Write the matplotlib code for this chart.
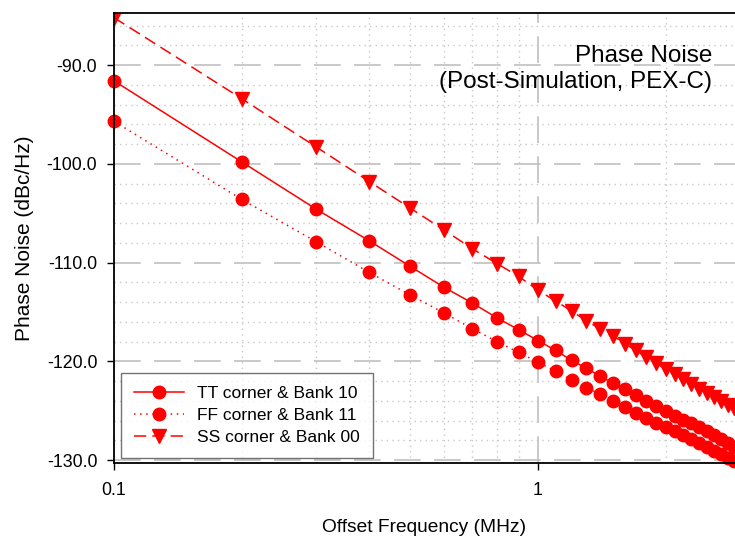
import matplotlib
matplotlib.use("Agg")
import matplotlib.pyplot as plt
from matplotlib.ticker import FixedLocator, NullFormatter, MultipleLocator, FormatStrFormatter

plt.rcParams['font.family'] = ['Liberation Sans', 'DejaVu Sans']

freq = [0.1, 0.2, 0.3, 0.4, 0.5, 0.6, 0.7, 0.8, 0.9, 1.0,
        1.1, 1.2, 1.3, 1.4, 1.5, 1.6, 1.7, 1.8, 1.9, 2.0,
        2.1, 2.2, 2.3, 2.4, 2.5, 2.6, 2.7, 2.8, 2.9]

tt_bank10 = [-91.6, -99.8, -104.6, -107.8, -110.4, -112.5, -114.1, -115.6, -116.8, -117.9,
             -118.9, -119.9, -120.7, -121.5, -122.2, -122.8, -123.4, -124.0, -124.5, -125.0,
             -125.5, -125.9, -126.3, -126.7, -127.1, -127.5, -127.9, -128.3, -128.7]

ff_bank11 = [-95.7, -103.6, -107.9, -111.0, -113.3, -115.1, -116.7, -118.0, -119.1, -120.1,
             -121.0, -121.9, -122.7, -123.3, -124.0, -124.6, -125.2, -125.7, -126.2, -126.7,
             -127.1, -127.5, -127.9, -128.3, -128.7, -129.1, -129.4, -129.8, -130.1]

ss_bank00 = [-85.2, -93.4, -98.3, -101.8, -104.5, -106.7, -108.6, -110.1, -111.4, -112.8,
             -113.9, -114.9, -115.9, -116.7, -117.4, -118.2, -118.9, -119.6, -120.2, -120.8,
             -121.3, -121.8, -122.3, -122.8, -123.2, -123.6, -124.0, -124.4, -124.7]

labels = ["TT corner & Bank 10", "FF corner & Bank 11", "SS corner & Bank 00"]

fig = plt.figure(figsize=(7.35, 5.4), dpi=100)
ax = fig.add_axes([114 / 735, 77.3 / 540, 1 - 114 / 735, (462.7 - 13.3) / 540])

red = '#ff0000'
ax.plot(freq, tt_bank10, color=red, linestyle='-', lw=1.1, marker='o', ms=9, label=labels[0], clip_on=False)
ax.plot(freq, ff_bank11, color=red, linestyle=(0, (1, 3)), lw=1.1, marker='o', ms=9, label=labels[1], clip_on=False)
ax.plot(freq, ss_bank00, color=red, linestyle=(0, (8, 4)), lw=1.1, marker='v', ms=9.5, label=labels[2])

ax.set_xscale('log')
ax.set_xlim(0.1, 2.915)
ax.set_ylim(-130.27, -84.76)

ax.xaxis.set_major_locator(FixedLocator([0.1, 1]))
ax.xaxis.set_major_formatter(FormatStrFormatter('%g'))
ax.xaxis.set_minor_locator(FixedLocator([0.2, 0.3, 0.4, 0.5, 0.6, 0.7, 0.8, 0.9, 2, 3]))
ax.xaxis.set_minor_formatter(NullFormatter())
ax.yaxis.set_major_locator(MultipleLocator(10))
ax.yaxis.set_major_formatter(FormatStrFormatter('%.1f'))
ax.yaxis.set_minor_locator(MultipleLocator(2))

ax.tick_params(which='major', direction='out', length=5, width=1, labelsize=12.8, pad=7)
ax.tick_params(axis='x', which='major', pad=9)
ax.tick_params(which='minor', length=0)

ax.grid(which='major', color='#c0c0c0', linestyle=(0, (16, 8)), lw=1.2)
ax.grid(which='minor', color='#c8c8c8', linestyle=(0, (1, 3)), lw=1.0)
ax.set_axisbelow(True)

ax.spines['right'].set_visible(False)
for s in ['left', 'bottom', 'top']:
    ax.spines[s].set_linewidth(1.3)

ax.set_xlabel("Offset Frequency (MHz)", fontsize=13.8, labelpad=14)
ax.set_ylabel("Phase Noise (dBc/Hz)", fontsize=15, labelpad=9)

ax.text(712 / 735, 1 - 69 / 540, "Phase Noise\n(Post-Simulation, PEX-C)", transform=fig.transFigure,
        ha='right', va='center', multialignment='right', fontsize=17.5, linespacing=1.25)

leg = ax.legend(loc='lower left', bbox_to_anchor=(121 / 735, 82 / 540), bbox_transform=fig.transFigure,
                fontsize=12.5, frameon=True, fancybox=False, edgecolor='#505050', handlelength=2.9,
                borderpad=0.75, labelspacing=0.38, handletextpad=0.75, borderaxespad=0)
leg.get_frame().set_linewidth(1.0)

fig.savefig("out.png", dpi=100)
